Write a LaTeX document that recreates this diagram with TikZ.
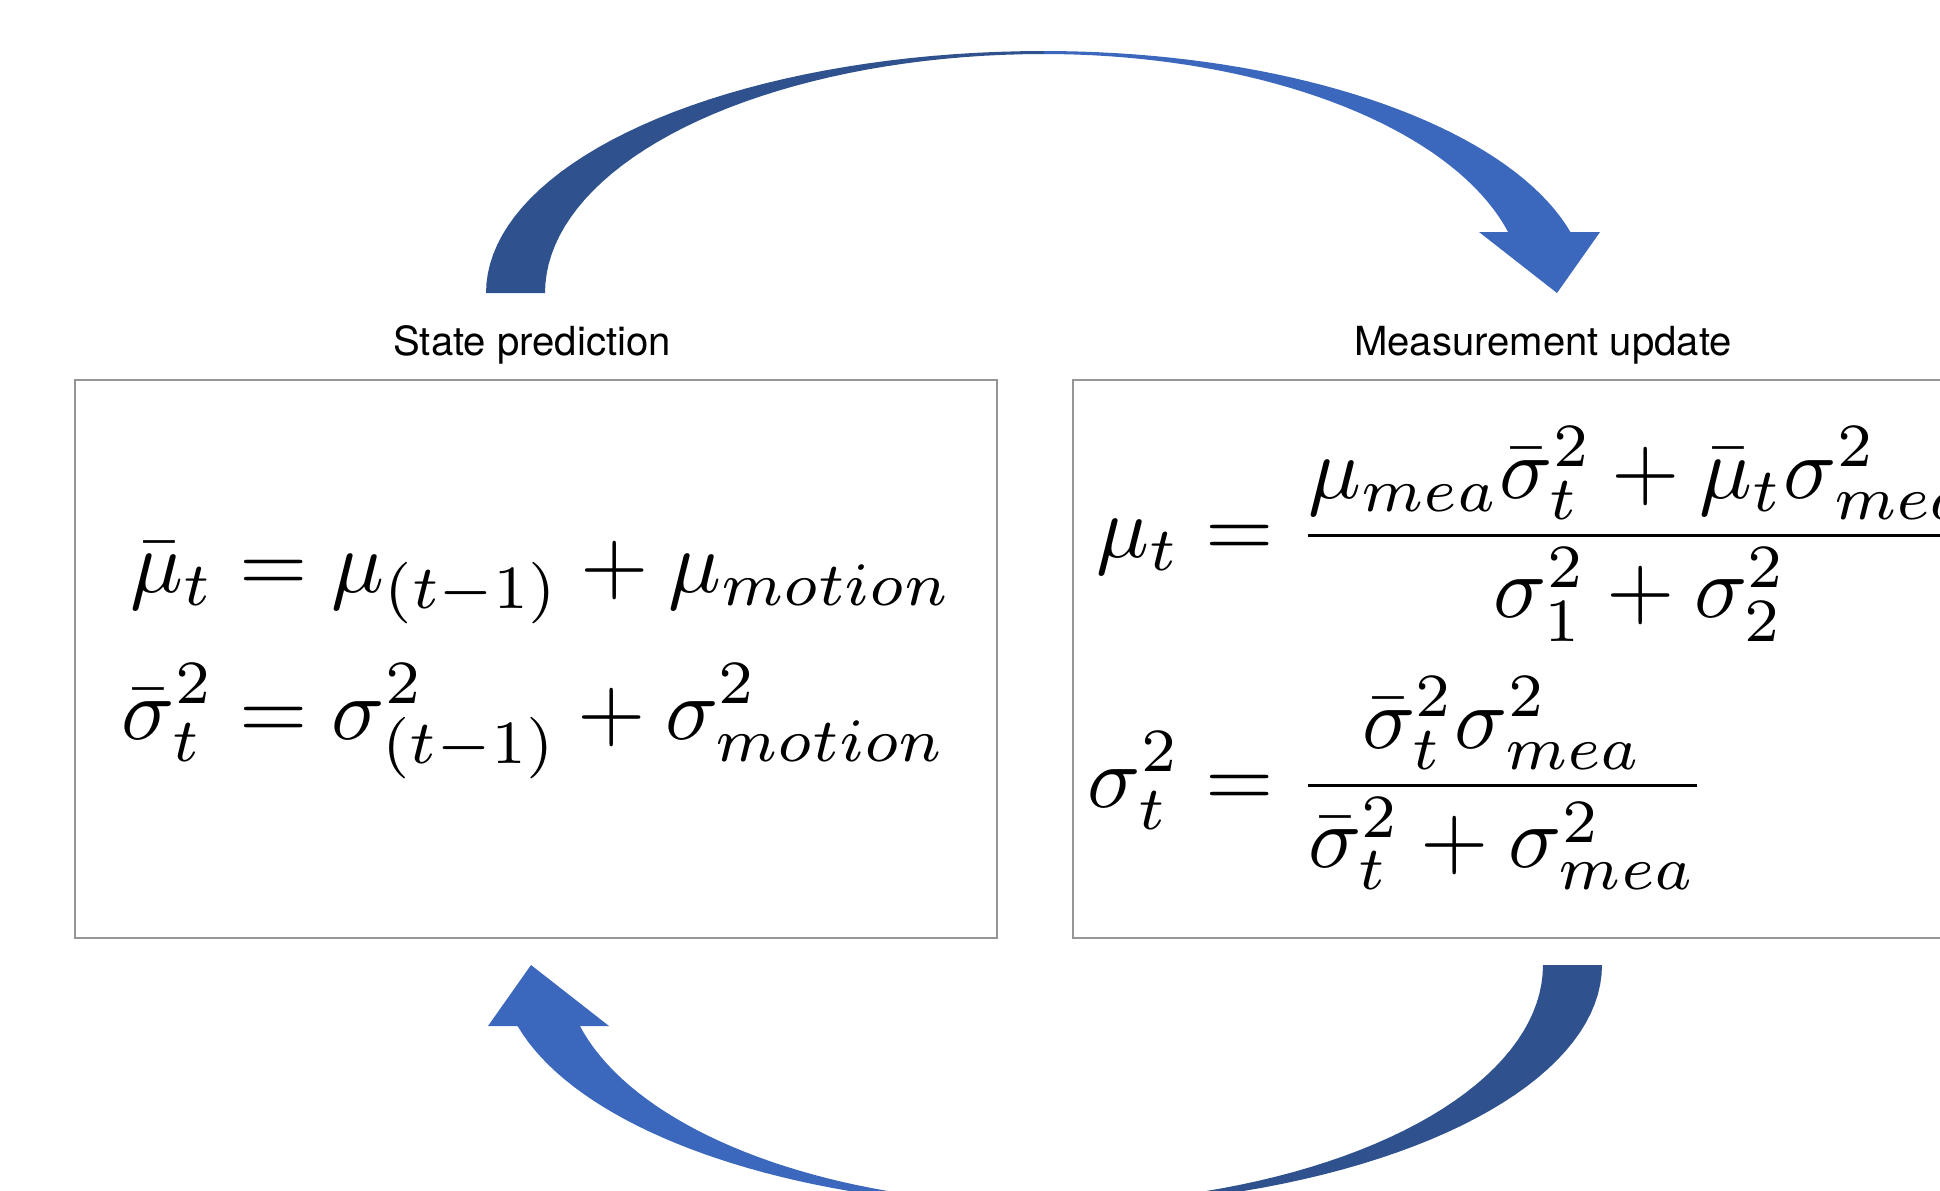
\RequirePackage{fix-cm}
\documentclass[tikz,border=0pt]{standalone}
\usepackage{amsmath}
\usepackage[no-math]{fontspec}
\newfontfamily\headingfont{TeX Gyre Heros}
\usetikzlibrary{positioning}
\definecolor{arrowDark}{RGB}{47,82,143}
\definecolor{arrowLight}{RGB}{59,103,189}
\definecolor{boxGray}{RGB}{150,150,150}
\tikzset{
  panel/.style   = {draw=boxGray, line width=0.6pt, minimum height=5.58cm,
                    anchor=north west, inner sep=0pt},
  heading/.style = {font=\headingfont\fontsize{11.4}{13}\selectfont,
                    inner sep=0pt, anchor=base},
  eqn/.style     = {scale=2.5, inner sep=0pt, anchor=west}
}

\begin{document}
\begin{tikzpicture}[x=0.01cm, y=-0.01cm]
\path[use as bounding box] (0,0) rectangle (1940,1190);
\clip (0,0) rectangle (1940,1190);

% --- PANELS ---
\node[panel, minimum width=9.21cm] (predict) at (74,379) {};
\node[panel, minimum width=10.5cm] (update) at (1072,379) {};

% --- HEADINGS ---
\node[heading] (predicttitle) at (532,355) {State prediction};
\node[heading] (updatetitle) at (1543,355) {Measurement update};

% --- EQUATIONS ---
\node[eqn] (predicteq) at (120,649) {$\begin{aligned}
    \bar{\mu}_t &= \mu_{(t-1)} + \mu_{motion}\\[0.5pt]
    \bar{\sigma}_t^2 &= \sigma_{(t-1)}^2 + \sigma_{motion}^2
\end{aligned}$};

\node[eqn] (updateeq) at (1086,658) {$\begin{aligned}
    \mu_t &= \dfrac{\mu_{mea}\bar{\sigma}_t^2 + \bar{\mu}_t\sigma_{mea}^2}{\sigma_1^2 + \sigma_2^2}\\[0pt]
    \sigma_t^2 &= \dfrac{\bar{\sigma}_t^2\sigma_{mea}^2}{\bar{\sigma}_t^2 + \sigma_{mea}^2}
\end{aligned}$};

% --- CURVED ARROWS (bottom one is the top one turned round) ---
\coordinate (pivot) at (1044,629);
\foreach \rot in {0,180} {
  \begin{scope}[rotate around={\rot:(pivot)}]
    \fill[arrowDark]
      plot[domain=180:270, samples=40] ({1044+558*cos(\x)}, {293+242*sin(\x)})
      -- plot[domain=270:180, samples=40] ({1044+499*cos(\x)}, {293+239*sin(\x)})
      -- cycle;
    \fill[arrowLight]
      plot[domain=270:345.4, samples=40] ({1044+544*cos(\x)}, {293+242*sin(\x)})
      -- (1600,232) -- (1557,293) -- (1479,232) -- (1508,232)
      -- plot[domain=345.2:270, samples=40] ({1044+480*cos(\x)}, {293+239*sin(\x)})
      -- cycle;
  \end{scope}
}
\end{tikzpicture}
\end{document}
